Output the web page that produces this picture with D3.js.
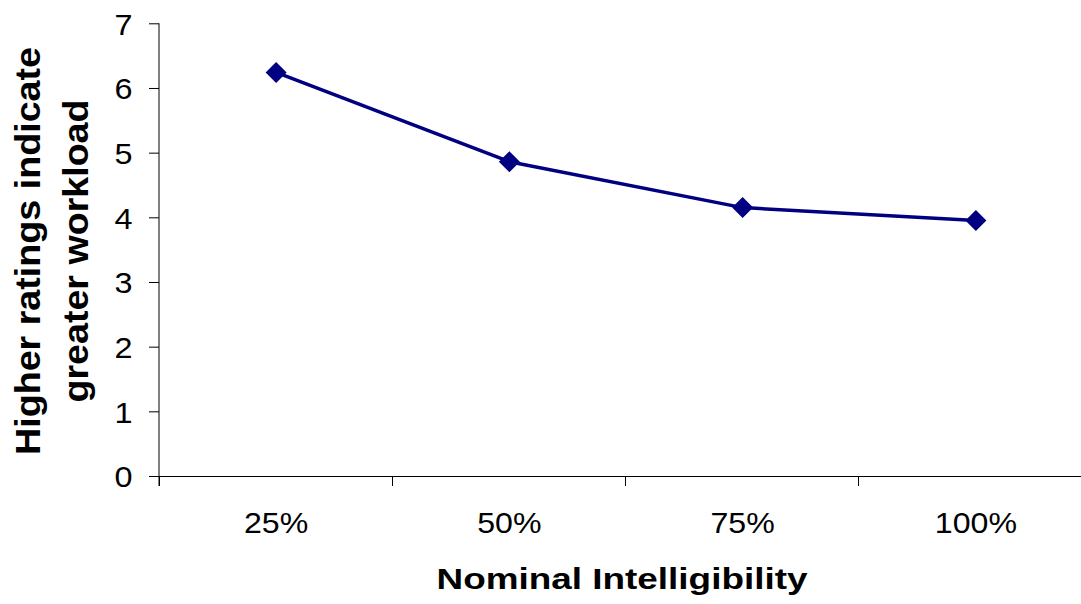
<!DOCTYPE html>
<html>
<head>
<meta charset="utf-8">
<script src="https://cdn.jsdelivr.net/npm/d3@7"></script>
<style>
  html, body { margin: 0; padding: 0; background: #fff; }
  svg { display: block; }
  text { font-family: "Liberation Sans", Arial, sans-serif; fill: #000; }
</style>
</head>
<body>
<svg id="chart" width="1081" height="604"></svg>
<script>
const categories = ["25%", "50%", "75%", "100%"];
const values = [6.24, 4.86, 4.15, 3.95];
const yTicks = [0, 1, 2, 3, 4, 5, 6, 7];
const xTitle = "Nominal Intelligibility";
const yTitleLines = ["Higher ratings indicate", "greater workload"];

const svg = d3.select("#chart");
const plot = { left: 159.5, right: 1092.5, top: 23.3, bottom: 476 };

const x = d3.scaleBand().domain(categories).range([plot.left, plot.right]).padding(0);
const y = d3.scaleLinear().domain([0, 7]).range([plot.bottom, plot.top]);

function stretch(sel, k) {
  sel.each(function () {
    const w = this.getComputedTextLength();
    d3.select(this).attr("textLength", w * k).attr("lengthAdjust", "spacingAndGlyphs");
  });
}

// Y axis
const yAxis = svg.append("g").attr("transform", `translate(${plot.left - 0.5},0)`)
  .call(d3.axisLeft(y).tickValues(yTicks).tickSize(10).tickPadding(0).tickFormat(d3.format("d")));
yAxis.select(".domain").attr("d", `M0,${plot.top}V${plot.bottom + 10}`).attr("stroke", "#000").attr("stroke-width", 1);
yAxis.selectAll(".tick line").attr("stroke", "#000").attr("stroke-width", 1);
yAxis.selectAll(".tick text")
  .attr("x", -26.5).attr("dy", null).attr("y", 10.8)
  .attr("text-anchor", "end")
  .style("font-family", "'Liberation Sans', Arial, sans-serif")
  .style("font-size", "30px").attr("fill", "#000")
  .call(stretch, 1.08);

// X axis
const xAxis = svg.append("g").attr("transform", `translate(0,${plot.bottom})`)
  .call(d3.axisBottom(x).tickSize(0).tickPadding(0));
xAxis.select(".domain").attr("d", `M${plot.left - 10},0.5H${plot.right}`).attr("stroke", "#000").attr("stroke-width", 1);
xAxis.selectAll(".tick text")
  .attr("y", 57).attr("dy", null)
  .style("font-family", "'Liberation Sans', Arial, sans-serif")
  .style("font-size", "30px").attr("fill", "#000")
  .call(stretch, 1.07);
// category boundary ticks
const bounds = categories.map(c => x(c)).concat([x(categories[categories.length - 1]) + x.bandwidth()]);
xAxis.selectAll("line.bound").data(bounds).enter().append("line")
  .attr("class", "bound")
  .attr("x1", d => Math.round(d) - 0.5).attr("x2", d => Math.round(d) - 0.5)
  .attr("y1", 0).attr("y2", 10)
  .attr("stroke", "#000").attr("stroke-width", 1);

// Line
const cx = c => x(c) + x.bandwidth() / 2;
const pts = categories.map((c, i) => [cx(c), y(values[i])]);
svg.append("path").datum(pts)
  .attr("d", d3.line())
  .attr("fill", "none").attr("stroke", "#000080").attr("stroke-width", 3.5).attr("stroke-linejoin", "round");

// Diamond markers
const r = 10.5;
svg.selectAll("path.marker").data(pts).enter().append("path")
  .attr("class", "marker")
  .attr("d", d => `M${d[0]},${d[1] - r}L${d[0] + r},${d[1]}L${d[0]},${d[1] + r}L${d[0] - r},${d[1]}Z`)
  .attr("fill", "#000080");

// X title
svg.append("text").text(xTitle)
  .attr("x", 622).attr("y", 588.5).attr("text-anchor", "middle")
  .attr("textLength", 371).attr("lengthAdjust", "spacingAndGlyphs")
  .style("font-size", "30px").style("font-weight", "bold");

// Y title (rotated)
const yt = svg.append("g").attr("transform", "translate(0,251) rotate(-90)");
const yLens = [408, 303];
const yBase = [40, 88];
yTitleLines.forEach((t, i) => {
  yt.append("text").text(t)
    .attr("x", 0).attr("y", yBase[i]).attr("text-anchor", "middle")
    .attr("textLength", yLens[i]).attr("lengthAdjust", "spacingAndGlyphs")
    .style("font-size", "35px").style("font-weight", "bold");
});
</script>
</body>
</html>
